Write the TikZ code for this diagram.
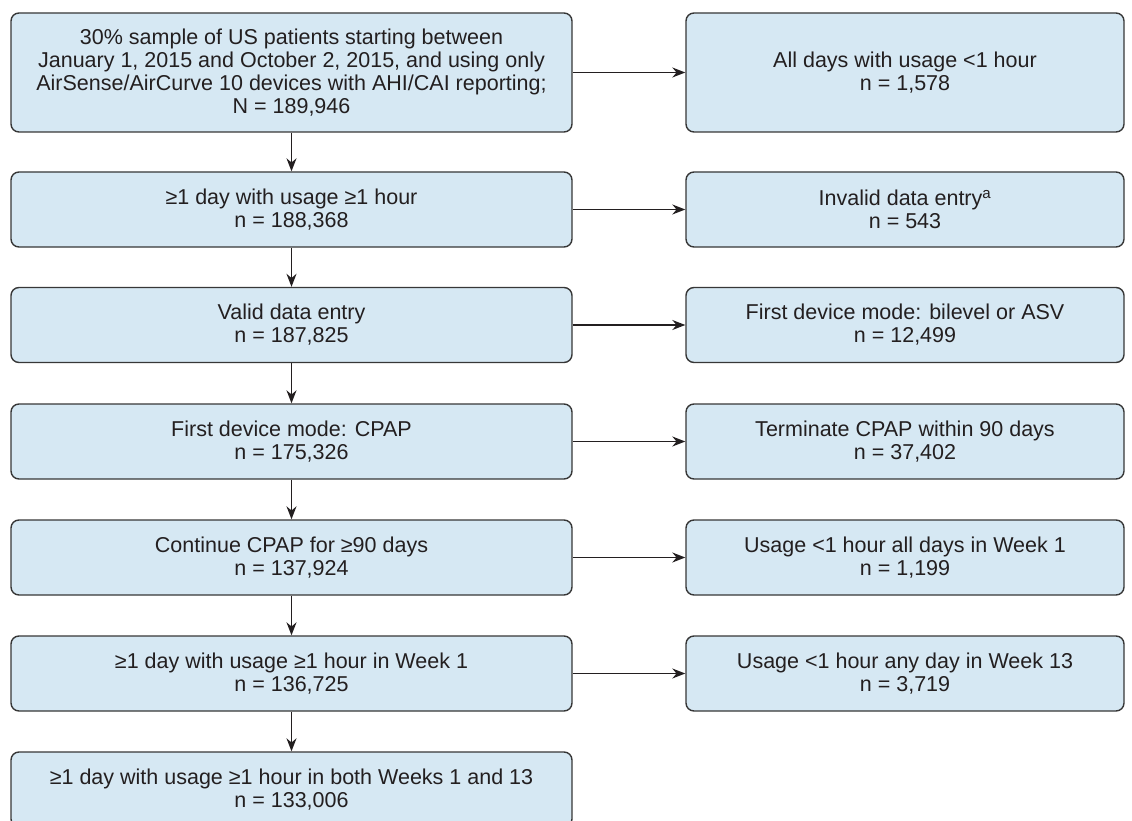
\documentclass[tikz,border=0pt]{standalone}
\usepackage{fontspec}
\setmainfont{Liberation Sans}
\usetikzlibrary{arrows.meta}

\definecolor{boxfill}{RGB}{214,232,243}
\definecolor{boxline}{RGB}{55,55,55}
\definecolor{txt}{RGB}{35,31,32}

\tikzset{
  stage/.style={draw=boxline, fill=boxfill, line width=1.4pt, rounded corners=8pt,
    minimum width=561pt, minimum height=75pt, align=center, text=txt,
    font=\fontsize{21.5}{23}\selectfont, inner sep=0pt},
  dropped/.style={stage, minimum width=438pt},
  flow/.style={draw=txt, line width=1.2pt, -{Stealth[length=13pt,width=10pt]}}
}

\begin{document}
\begin{tikzpicture}[x=1pt,y=-1pt]
    \useasboundingbox (0,0) rectangle (1132,821);

    \draw(291.5,72.5) node[stage, minimum height=119pt] (A) {30\% sample of US patients starting between\\ January 1, 2015 and October 2, 2015, and using only\\ AirSense/AirCurve 10 devices with AHI/CAI reporting;\\ N = 189,946};
    \draw(291.5,209.5) node[stage] (B) {≥1 day with usage ≥1 hour\\ n = 188,368};
    \draw(291.5,325) node[stage] (C) {Valid data entry\\ n = 187,825};
    \draw(291.5,441.5) node[stage] (D) {First device mode: CPAP\\ n = 175,326};
    \draw(291.5,557.5) node[stage] (E) {Continue CPAP for ≥90 days\\ n = 137,924};
    \draw(291.5,673.5) node[stage] (F) {≥1 day with usage ≥1 hour in Week 1\\ n = 136,725};
    \draw(291.5,789.5) node[stage] (G) {≥1 day with usage ≥1 hour in both Weeks 1 and 13\\ n = 133,006};

    \draw(905,72.5) node[dropped, minimum height=119pt] (A1) {All days with usage <1 hour\\ n = 1,578};
    \draw(905,209.5) node[dropped] (B1) {Invalid data entry\textsuperscript{a}\\ n = 543};
    \draw(905,325) node[dropped] (C1) {First device mode: bilevel or ASV\\ n = 12,499};
    \draw(905,441.5) node[dropped] (D1) {Terminate CPAP within 90 days\\ n = 37,402};
    \draw(905,557.5) node[dropped] (E1) {Usage <1 hour all days in Week 1\\ n = 1,199};
    \draw(905,673.5) node[dropped] (F1) {Usage <1 hour any day in Week 13\\ n = 3,719};

    \draw[flow] (A) to (B);
    \draw[flow] (B) to (C);
    \draw[flow] (C) to (D);
    \draw[flow] (D) to (E);
    \draw[flow] (E) to (F);
    \draw[flow] (F) to (G);

    \draw[flow] (A) to (A1);
    \draw[flow] (B) to (B1);
    \draw[flow] (C) to (C1);
    \draw[flow] (D) to (D1);
    \draw[flow] (E) to (E1);
    \draw[flow] (F) to (F1);

\end{tikzpicture}
\end{document}
